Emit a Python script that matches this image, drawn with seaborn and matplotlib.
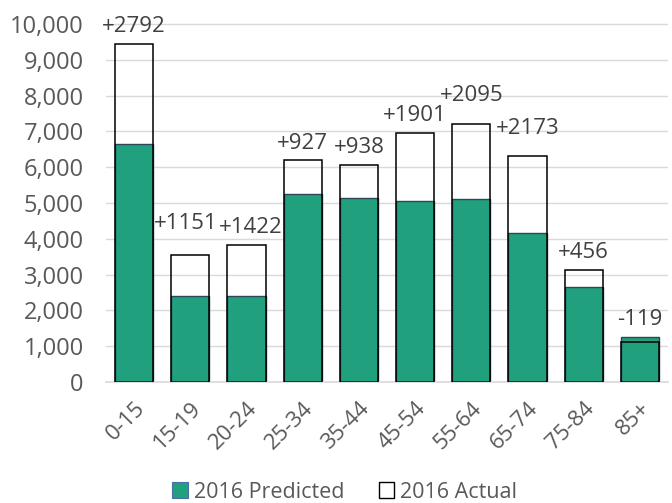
import matplotlib
matplotlib.use("Agg")
import matplotlib.pyplot as plt
from matplotlib.patches import Patch
import seaborn as sns
import pandas as pd

ages = ["0-15", "15-19", "20-24", "25-34", "35-44", "45-54", "55-64", "65-74", "75-84", "85+"]
predicted = [6650, 2400, 2400, 5260, 5130, 5060, 5110, 4150, 2660, 1250]
actual = [9442, 3551, 3822, 6187, 6068, 6961, 7205, 6323, 3116, 1131]
diffs = [2792, 1151, 1422, 927, 938, 1901, 2095, 2173, 456, -119]
yticks = [0, 1000, 2000, 3000, 4000, 5000, 6000, 7000, 8000, 9000, 10000]

GREEN = "#21a07e"
TEXT = "#404040"

df = pd.DataFrame({"age": ages, "predicted": predicted, "actual": actual})

sns.set_theme(style="white")
plt.rcParams["font.family"] = ["Open Sans", "DejaVu Sans"]

fig = plt.figure(figsize=(6.72, 5.03), dpi=100)
ax = fig.add_axes([106 / 672, 121 / 503, 562 / 672, 379.5 / 503])

sns.barplot(data=df, x="age", y="predicted", color=GREEN, saturation=1,
            width=0.68, edgecolor="#2f4658", linewidth=1.0, ax=ax, zorder=2)
sns.barplot(data=df, x="age", y="actual", fill=False, color="black",
            width=0.68, linewidth=1.1, ax=ax, zorder=3)

# a few labels were nudged in the original to avoid overlaps (dx, dy in points)
nudge = {1: (-3, 10), 2: (3, 0), 6: (0, 8), 7: (0, 7)}
for i, d in enumerate(diffs):
    top = max(predicted[i], actual[i])
    dx, dy = nudge.get(i, (0, 0))
    ax.annotate(f"{d:+d}", (i, top), xytext=(dx, 5 + dy),
                textcoords="offset points", ha="center", va="bottom",
                fontsize=16, color=TEXT)

ax.set_ylim(0, 10600)
ax.set_xlim(-0.5, len(ages) - 0.5)
ax.set_yticks(yticks)
ax.set_yticklabels([f"{v:,}" for v in yticks], fontsize=17, color="#595959")
ax.yaxis.grid(True, color="#d9d9d9", linewidth=1)
ax.set_axisbelow(True)
ax.set_xlabel("")
ax.set_ylabel("")
ax.tick_params(axis="y", length=0, pad=16)
ax.tick_params(axis="x", length=0, pad=11)
plt.setp(ax.get_xticklabels(), rotation=45, ha="right", rotation_mode="anchor",
         fontsize=16, color="#595959")
for s in ["top", "right", "left"]:
    ax.spines[s].set_visible(False)
ax.spines["bottom"].set_color("#d9d9d9")
ax.spines["bottom"].set_linewidth(1.2)

handles = [Patch(facecolor=GREEN, edgecolor="#4a6fa5", linewidth=0.8, label="2016 Predicted"),
           Patch(facecolor="white", edgecolor="black", linewidth=1, label="2016 Actual")]
fig.legend(handles=handles, loc="center", bbox_to_anchor=(345 / 672, 1 - 492 / 503),
           ncol=2, frameon=False, fontsize=15.5, handlelength=0.7, handleheight=0.7,
           handletextpad=0.3, columnspacing=1.6, labelcolor="#595959")

fig.savefig("out.png", dpi=100)
